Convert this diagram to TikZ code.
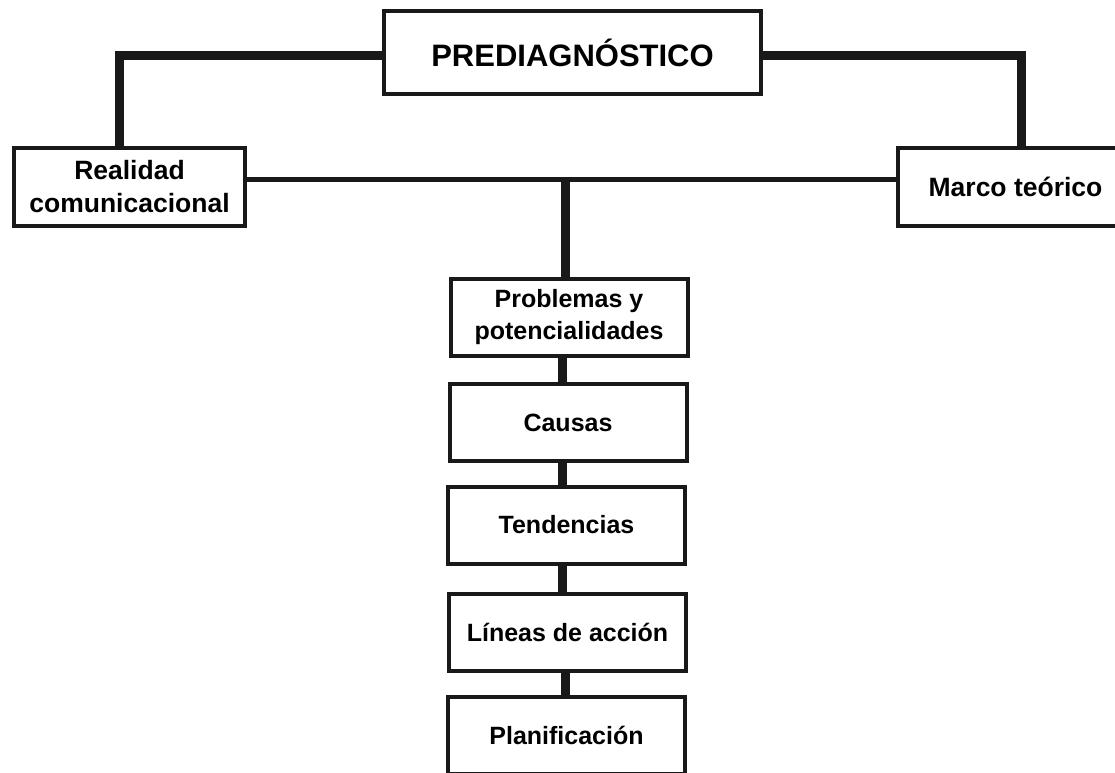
\documentclass[tikz,border=0pt]{standalone}
\usepackage{fontspec}
\setmainfont{Liberation Sans}
\begin{document}
\begin{tikzpicture}[x=1pt,y=-1pt,
  box/.style={draw=black!90, line width=4pt, fill=white, align=center, inner sep=0pt, font=\bfseries},
  topbox/.style={box, minimum width=377pt, minimum height=83pt, font=\bfseries\fontsize{31}{36}\selectfont},
  sidebox/.style={box, minimum width=231pt, minimum height=78pt, font=\bfseries\fontsize{26.5}{33}\selectfont},
  stepbox/.style={box, minimum width=237pt, minimum height=77pt, font=\bfseries\fontsize{25}{32}\selectfont},
  thick link/.style={draw=black!90, line width=9pt},
  thin link/.style={draw=black!90, line width=4.2pt}]
\path[use as bounding box, fill=white] (0,0) rectangle (1115,772);
\clip (0,0) rectangle (1115,772);

% connectors first (behind boxes)
\coordinate (lc) at (119,55.5);
\coordinate (rc) at (1021.5,55.5);
\coordinate (hl) at (565.5,179.5);
\coordinate (sp) at (562,0);

\node[topbox] (pre) at (572.5,52.5) {PREDIAGNÓSTICO};
\node[sidebox] (real) at (129.5,187) {Realidad\\comunicacional};
\node[sidebox, minimum width=235pt] (marco) at (1015.5,187) {Marco teórico};
\node[stepbox] (prob) at (569,317.5) {Problemas y\\potencialidades};
\node[stepbox] (caus) at (568,422.5) {Causas};
\node[stepbox] (tend) at (566.5,525) {Tendencias};
\node[stepbox] (lin) at (567.5,632.5) {Líneas de acción};
\node[stepbox] (plan) at (566.5,735.5) {Planificación};

\begin{scope}[on background layer/.style={}]
\draw[thick link, line join=miter] (pre.west |- lc) -- (lc) -- (lc |- real.north);
\draw[thick link, line join=miter] (pre.east |- rc) -- (rc) -- (rc |- marco.north);
\draw[thin link] (real.east |- hl) -- (marco.west |- hl);
\draw[thick link] (hl) -- (hl |- prob.north);
\draw[thick link] (prob.south -| sp) -- (caus.north -| sp);
\draw[thick link] (caus.south -| sp) -- (tend.north -| sp);
\draw[thick link] (tend.south -| sp) -- (lin.north -| sp);
\draw[thick link] ([xshift=3pt]lin.south -| sp) -- ([xshift=3pt]plan.north -| sp);
\end{scope}
\end{tikzpicture}
\end{document}
